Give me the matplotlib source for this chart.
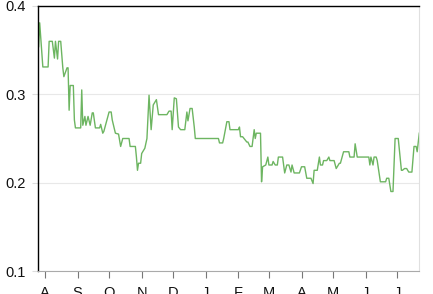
import matplotlib
matplotlib.use("Agg")
import matplotlib.pyplot as plt
import matplotlib.dates as mdates
import pandas as pd

plt.rcParams['font.family'] = ['Liberation Sans', 'DejaVu Sans']

# 数据：日期与数值
dates = [
    "2019-07-26", "2019-07-27", "2019-07-30", "2019-08-04", "2019-08-05", "2019-08-08",
    "2019-08-10", "2019-08-11", "2019-08-13", "2019-08-14", "2019-08-16", "2019-08-18",
    "2019-08-19", "2019-08-22", "2019-08-23", "2019-08-24", "2019-08-25", "2019-08-28",
    "2019-08-29", "2019-08-30", "2019-09-04", "2019-09-05", "2019-09-06", "2019-09-08",
    "2019-09-09", "2019-09-11", "2019-09-13", "2019-09-15", "2019-09-16", "2019-09-18",
    "2019-09-22", "2019-09-23", "2019-09-25", "2019-09-26", "2019-09-29", "2019-10-01",
    "2019-10-03", "2019-10-04", "2019-10-07", "2019-10-10", "2019-10-12", "2019-10-14",
    "2019-10-20", "2019-10-21", "2019-10-26", "2019-10-27", "2019-10-28", "2019-10-29",
    "2019-10-31", "2019-11-01", "2019-11-04", "2019-11-06", "2019-11-08", "2019-11-10",
    "2019-11-12", "2019-11-15", "2019-11-17", "2019-11-25", "2019-11-27", "2019-11-29",
    "2019-11-30", "2019-12-02", "2019-12-04", "2019-12-06", "2019-12-08", "2019-12-12",
    "2019-12-14", "2019-12-15", "2019-12-17", "2019-12-19", "2019-12-21", "2019-12-22",
    "2020-01-13", "2020-01-14", "2020-01-17", "2020-01-18", "2020-01-21", "2020-01-23",
    "2020-01-24", "2020-02-01", "2020-02-02", "2020-02-03", "2020-02-05", "2020-02-09",
    "2020-02-10", "2020-02-12", "2020-02-14", "2020-02-16", "2020-02-17", "2020-02-18",
    "2020-02-22", "2020-02-23", "2020-02-24", "2020-02-27", "2020-02-29", "2020-03-01",
    "2020-03-04", "2020-03-05", "2020-03-07", "2020-03-09", "2020-03-10", "2020-03-14",
    "2020-03-15", "2020-03-16", "2020-03-18", "2020-03-20", "2020-03-22", "2020-03-23",
    "2020-03-25", "2020-03-30", "2020-04-01", "2020-04-04", "2020-04-06", "2020-04-10",
    "2020-04-12", "2020-04-13", "2020-04-16", "2020-04-18", "2020-04-19", "2020-04-21",
    "2020-04-22", "2020-04-25", "2020-04-27", "2020-04-28", "2020-05-02", "2020-05-04",
    "2020-05-07", "2020-05-08", "2020-05-11", "2020-05-16", "2020-05-17", "2020-05-21",
    "2020-05-22", "2020-05-24", "2020-06-04", "2020-06-05", "2020-06-06", "2020-06-08",
    "2020-06-09", "2020-06-11", "2020-06-12", "2020-06-15", "2020-06-20", "2020-06-21",
    "2020-06-23", "2020-06-25", "2020-06-27", "2020-06-29", "2020-07-02", "2020-07-05",
    "2020-07-06", "2020-07-08", "2020-07-10", "2020-07-12", "2020-07-15", "2020-07-17",
    "2020-07-19", "2020-07-20", "2020-07-22",
]
values = [
    0.354, 0.381, 0.331, 0.331, 0.360, 0.360,
    0.341, 0.360, 0.340, 0.360, 0.360, 0.330,
    0.320, 0.330, 0.330, 0.282, 0.310, 0.310,
    0.271, 0.262, 0.262, 0.305, 0.265, 0.275,
    0.265, 0.275, 0.265, 0.279, 0.279, 0.262,
    0.262, 0.266, 0.256, 0.258, 0.271, 0.280,
    0.280, 0.271, 0.256, 0.255, 0.241, 0.250,
    0.250, 0.241, 0.241, 0.229, 0.214, 0.222,
    0.222, 0.233, 0.239, 0.250, 0.299, 0.260,
    0.288, 0.294, 0.277, 0.277, 0.281, 0.281,
    0.260, 0.296, 0.295, 0.263, 0.260, 0.260,
    0.280, 0.270, 0.284, 0.284, 0.263, 0.250,
    0.250, 0.245, 0.245, 0.250, 0.269, 0.269,
    0.260, 0.260, 0.263, 0.252, 0.252, 0.246,
    0.246, 0.241, 0.241, 0.260, 0.250, 0.256,
    0.256, 0.201, 0.218, 0.220, 0.229, 0.220,
    0.220, 0.224, 0.220, 0.220, 0.229, 0.229,
    0.220, 0.211, 0.220, 0.220, 0.212, 0.220,
    0.211, 0.211, 0.218, 0.218, 0.205, 0.205,
    0.199, 0.214, 0.214, 0.229, 0.220, 0.220,
    0.225, 0.225, 0.229, 0.225, 0.225, 0.216,
    0.222, 0.222, 0.235, 0.235, 0.229, 0.229,
    0.244, 0.229, 0.229, 0.220, 0.229, 0.220,
    0.229, 0.229, 0.225, 0.201, 0.201, 0.205,
    0.205, 0.190, 0.190, 0.250, 0.250, 0.214,
    0.214, 0.216, 0.216, 0.212, 0.212, 0.241,
    0.241, 0.235, 0.256,
]
y_ticks = [0.1, 0.2, 0.3, 0.4]
month_labels = ["A", "S", "O", "N", "D", "J", "F", "M", "A", "M", "J", "J"]

x = pd.to_datetime(dates)

fig = plt.figure(figsize=(4.33, 2.94), dpi=100)
ax = fig.add_axes([0.0878, 0.0782, 0.8799, 0.9014])

ax.plot(x, values, color='#6db561', linewidth=1.0)

ax.set_ylim(0.1, 0.4)
ax.set_yticks(y_ticks)
ax.set_yticklabels([f"{t:.1f}" for t in y_ticks])
ax.set_xlim(pd.Timestamp("2019-07-25 10:00"), pd.Timestamp("2020-07-21 18:00"))

month_ticks = pd.date_range("2019-08-01", "2020-07-01", freq="MS")
ax.set_xticks(month_ticks)
ax.set_xticklabels(month_labels)

ax.grid(axis='y', color='#e8e8e8', linewidth=0.8)
ax.set_axisbelow(True)

for side in ['left', 'top']:
    ax.spines[side].set_color('black')
    ax.spines[side].set_linewidth(1.0)
ax.spines['bottom'].set_color('#aaaaaa')
ax.spines['right'].set_color('#e0e0e0')

ax.tick_params(axis='y', length=4, color='#dddddd', pad=5, labelsize=10.5, labelcolor='#111111')
ax.tick_params(axis='x', length=5, color='#777777', pad=6, labelsize=10.5, labelcolor='#111111')

fig.savefig("out.png", dpi=100)
plt.close(fig)
